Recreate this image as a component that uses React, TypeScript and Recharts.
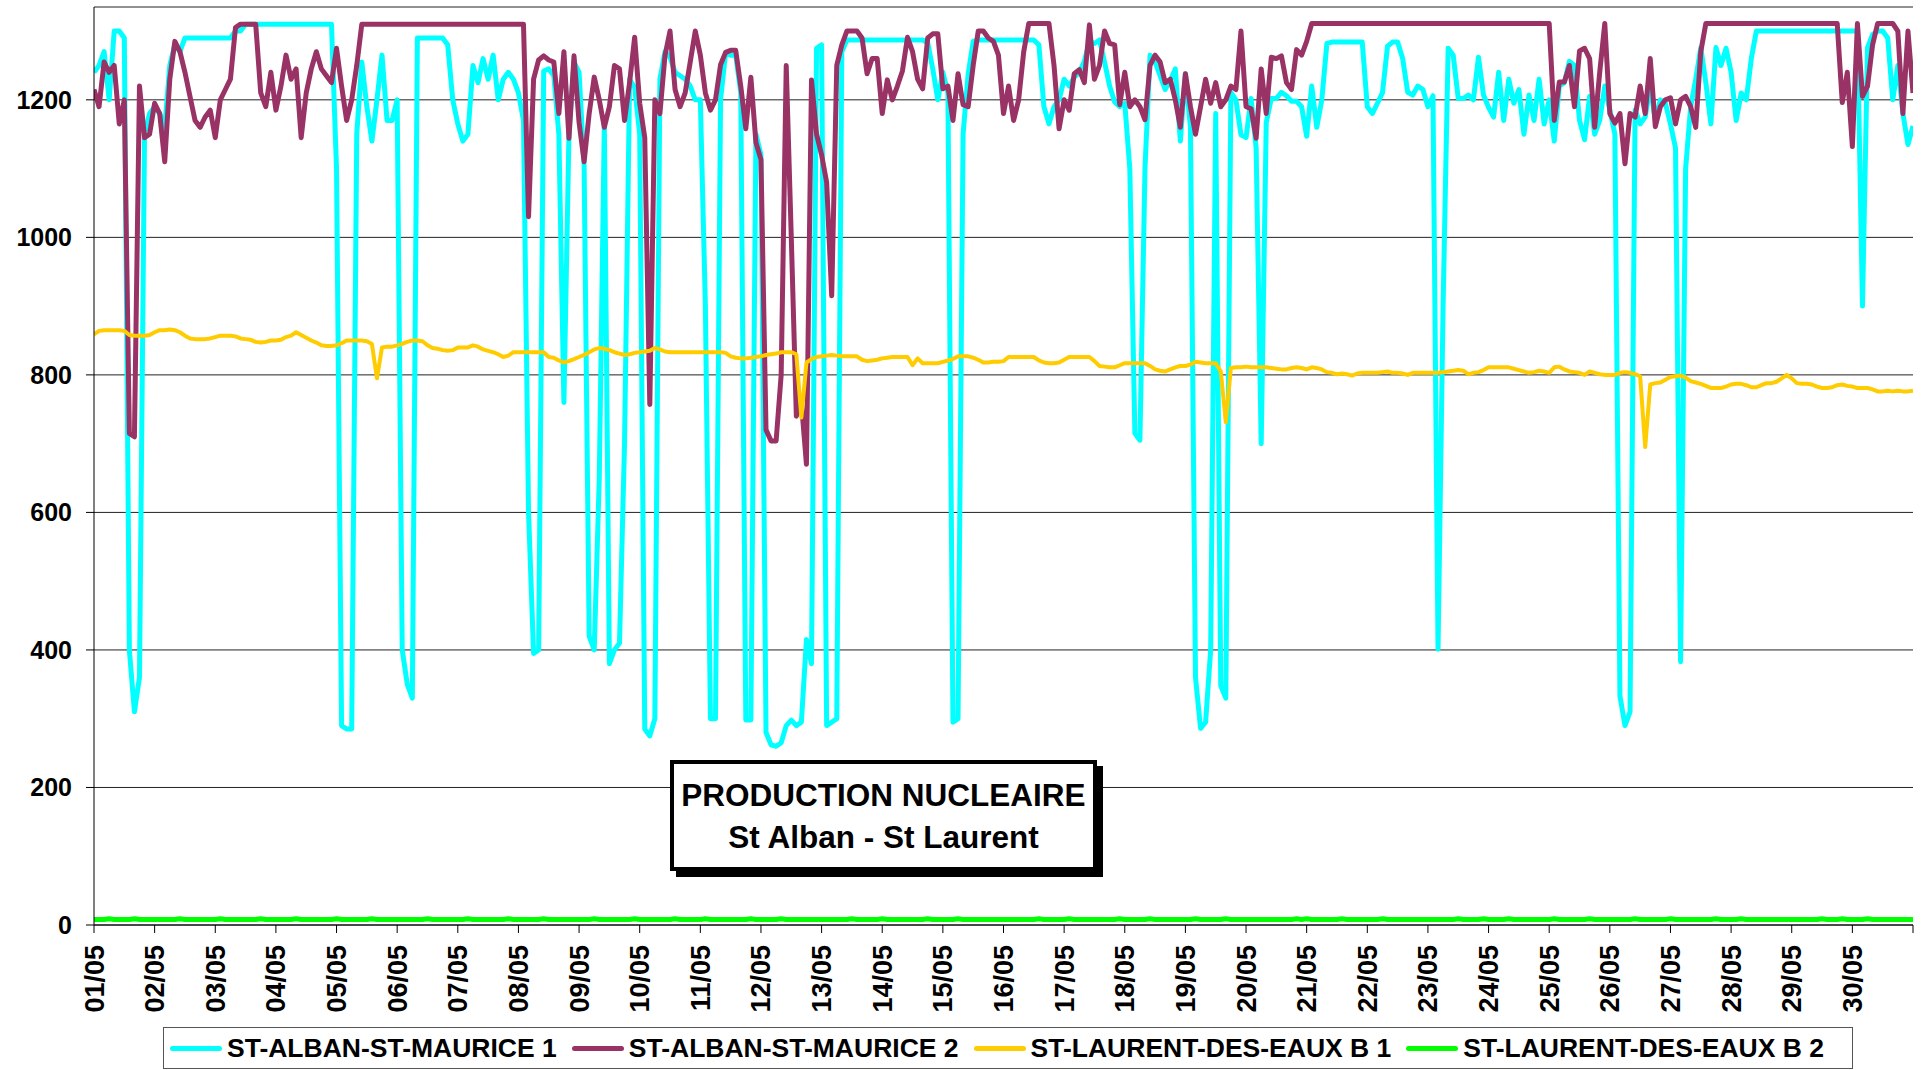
import React from 'react';
import { LineChart, Line, XAxis, YAxis, CartesianGrid } from 'recharts';

// one value every 2 hours, 01/05 00h -> 31/05 00h
const STEP_HOURS = 2;

const dayLabels = [
    '01/05', '02/05', '03/05', '04/05', '05/05', '06/05', '07/05', '08/05', '09/05', '10/05',
    '11/05', '12/05', '13/05', '14/05', '15/05', '16/05', '17/05', '18/05', '19/05', '20/05',
    '21/05', '22/05', '23/05', '24/05', '25/05', '26/05', '27/05', '28/05', '29/05', '30/05'
];

const yTicks = [0, 200, 400, 600, 800, 1000, 1200];

const seriesNames = [
    'ST-ALBAN-ST-MAURICE 1',
    'ST-ALBAN-ST-MAURICE 2',
    'ST-LAURENT-DES-EAUX B 1',
    'ST-LAURENT-DES-EAUX B 2'
];

const seriesColors = ['#00ffff', '#993366', '#ffcc00', '#00ff00'];

// ST-ALBAN-ST-MAURICE 1
const alban1 = [
    1240, 1250, 1270, 1200, 1300, 1300, 1290, 400, 310, 360, 1150, 1180,
    1190, 1180, 1160, 1250, 1280, 1270, 1290, 1290, 1290, 1290, 1290, 1290,
    1290, 1290, 1290, 1290, 1300, 1300, 1310, 1310, 1310, 1310, 1310, 1310,
    1310, 1310, 1310, 1310, 1310, 1310, 1310, 1310, 1310, 1310, 1310, 1310,
    1100, 290, 285, 285, 1150, 1255, 1190, 1140, 1200, 1265, 1170, 1170,
    1200, 400, 350, 330, 1290, 1290, 1290, 1290, 1290, 1290, 1280, 1200,
    1165, 1140, 1150, 1250, 1225, 1260, 1230, 1265, 1200, 1230, 1240, 1230,
    1210, 1170, 600, 395, 400, 1242, 1245, 1235, 1150, 760, 1150, 1255,
    1240, 1104, 420, 400, 650, 1165, 380, 400, 410, 700, 1230, 1218,
    1150, 285, 275, 300, 1230, 1270, 1262, 1240, 1235, 1230, 1220, 1200,
    1200, 900, 300, 300, 1200, 1268, 1265, 1265, 1210, 298, 298, 1150,
    1120, 280, 262, 260, 265, 290, 298, 290, 295, 415, 380, 1275,
    1280, 290, 295, 300, 1270, 1287, 1287, 1287, 1287, 1287, 1287, 1287,
    1287, 1287, 1287, 1287, 1287, 1287, 1287, 1287, 1287, 1283, 1245, 1200,
    1240, 1210, 295, 300, 1150, 1237, 1285, 1287, 1287, 1287, 1287, 1287,
    1287, 1287, 1287, 1287, 1287, 1287, 1287, 1280, 1190, 1165, 1190, 1200,
    1230, 1220, 1233, 1240, 1256, 1285, 1282, 1287, 1255, 1220, 1197, 1190,
    1195, 1100, 715, 705, 1100, 1265, 1255, 1235, 1215, 1228, 1245, 1140,
    1238, 1160, 360, 286, 295, 400, 1180, 348, 330, 1211, 1200, 1149,
    1145, 1202, 1130, 700, 1167, 1202, 1202, 1211, 1206, 1198, 1198, 1190,
    1147, 1220, 1160, 1200, 1282, 1284, 1284, 1284, 1284, 1284, 1284, 1284,
    1190, 1180, 1195, 1210, 1278, 1284, 1284, 1260, 1211, 1207, 1220, 1215,
    1190, 1206, 401, 900, 1275, 1265, 1202, 1202, 1207, 1200, 1262, 1207,
    1189, 1175, 1240, 1170, 1230, 1195, 1215, 1150, 1207, 1170, 1230, 1165,
    1200, 1140, 1220, 1225, 1256, 1250, 1170, 1142, 1205, 1150, 1170, 1220,
    1185, 1150, 333, 290, 310, 1185, 1165, 1175, 1220, 1170, 1200, 1195,
    1165, 1130, 383, 1100, 1190, 1230, 1276, 1225, 1165, 1276, 1250, 1275,
    1240, 1170, 1210, 1200, 1260, 1300, 1300, 1300, 1300, 1300, 1300, 1300,
    1300, 1300, 1300, 1300, 1300, 1300, 1300, 1300, 1300, 1300, 1300, 1300,
    1300, 1300, 900, 1276, 1295, 1300, 1300, 1290, 1200, 1250, 1180, 1135,
    1162
];

// ST-ALBAN-ST-MAURICE 2
const alban2 = [
    1215, 1190, 1255, 1240, 1250, 1165, 1200, 715, 710, 1220, 1145, 1150,
    1195, 1180, 1110, 1230, 1285, 1270, 1240, 1205, 1170, 1160, 1175, 1185,
    1145, 1200, 1215, 1230, 1305, 1310, 1310, 1310, 1310, 1210, 1190, 1240,
    1185, 1220, 1265, 1230, 1245, 1145, 1210, 1245, 1270, 1245, 1235, 1225,
    1275, 1220, 1170, 1200, 1250, 1310, 1310, 1310, 1310, 1310, 1310, 1310,
    1310, 1310, 1310, 1310, 1310, 1310, 1310, 1310, 1310, 1310, 1310, 1310,
    1310, 1310, 1310, 1310, 1310, 1310, 1310, 1310, 1310, 1310, 1310, 1310,
    1310, 1310, 1030, 1230, 1258, 1264, 1258, 1255, 1180, 1270, 1144, 1264,
    1167, 1110, 1180, 1233, 1200, 1160, 1190, 1250, 1245, 1170, 1225, 1291,
    1195, 1145, 757, 1200, 1180, 1264, 1300, 1215, 1190, 1210, 1255, 1300,
    1265, 1210, 1185, 1200, 1251, 1269, 1272, 1272, 1220, 1158, 1233, 1138,
    1113, 720, 704, 704, 800, 1250, 1000, 740, 760, 670, 1229, 1150,
    1120, 1080, 915, 1250, 1280, 1300, 1300, 1300, 1290, 1238, 1260, 1260,
    1180, 1229, 1200, 1220, 1242, 1291, 1270, 1230, 1216, 1290, 1296, 1296,
    1216, 1220, 1170, 1238, 1193, 1190, 1250, 1300, 1300, 1290, 1285, 1265,
    1180, 1220, 1170, 1200, 1270, 1311, 1311, 1311, 1311, 1311, 1250, 1158,
    1200, 1185, 1238, 1244, 1225, 1309, 1230, 1250, 1300, 1282, 1280, 1193,
    1240, 1190, 1200, 1190, 1171, 1250, 1265, 1255, 1225, 1230, 1200, 1160,
    1238, 1190, 1150, 1190, 1230, 1195, 1225, 1190, 1200, 1220, 1215, 1300,
    1190, 1187, 1144, 1245, 1180, 1262, 1260, 1264, 1225, 1215, 1273, 1265,
    1285, 1311, 1311, 1311, 1311, 1311, 1311, 1311, 1311, 1311, 1311, 1311,
    1311, 1311, 1311, 1311, 1311, 1311, 1311, 1311, 1311, 1311, 1311, 1311,
    1311, 1311, 1311, 1311, 1311, 1311, 1311, 1311, 1311, 1311, 1311, 1311,
    1311, 1311, 1311, 1311, 1311, 1311, 1311, 1311, 1311, 1311, 1311, 1311,
    1311, 1170, 1226, 1226, 1250, 1190, 1271, 1275, 1260, 1160, 1240, 1311,
    1180, 1166, 1180, 1107, 1180, 1175, 1220, 1180, 1260, 1161, 1190, 1200,
    1203, 1165, 1200, 1205, 1190, 1160, 1270, 1311, 1311, 1311, 1311, 1311,
    1311, 1311, 1311, 1311, 1311, 1311, 1311, 1311, 1311, 1311, 1311, 1311,
    1311, 1311, 1311, 1311, 1311, 1311, 1311, 1311, 1311, 1311, 1196, 1240,
    1132, 1311, 1205, 1220, 1280, 1311, 1311, 1311, 1311, 1300, 1180, 1300,
    1210
];

// ST-LAURENT-DES-EAUX B 1
const laurent1 = [
    859, 864, 865, 865, 865, 865, 864, 858, 857, 857, 857, 858,
    862, 865, 865, 866, 865, 862, 857, 853, 852, 852, 852, 853,
    855, 857, 857, 857, 856, 853, 852, 851, 848, 847, 848, 850,
    850, 851, 855, 857, 862, 858, 854, 850, 847, 843, 842, 842,
    843, 846, 850, 850, 850, 850, 849, 845, 795, 840, 841, 841,
    843, 845, 848, 850, 850, 849, 843, 839, 838, 836, 835, 836,
    840, 840, 840, 843, 841, 837, 835, 833, 830, 826, 828, 833,
    833, 833, 833, 833, 833, 833, 826, 825, 821, 818, 820, 823,
    826, 829, 833, 837, 839, 838, 836, 833, 831, 829, 830, 832,
    833, 834, 835, 839, 837, 834, 833, 833, 833, 833, 833, 833,
    833, 833, 833, 833, 833, 832, 827, 825, 824, 824, 825, 826,
    827, 829, 830, 831, 833, 833, 833, 830, 738, 818, 823, 826,
    827, 828, 829, 828, 827, 827, 827, 827, 822, 820, 821, 822,
    824, 825, 826, 826, 826, 826, 814, 824, 817, 817, 817, 817,
    819, 821, 823, 827, 827, 827, 825, 822, 818, 818, 819, 819,
    820, 826, 826, 826, 826, 826, 826, 821, 818, 817, 817, 818,
    822, 826, 826, 826, 826, 826, 820, 813, 812, 811, 811, 814,
    817, 817, 817, 817, 817, 813, 808, 806, 805, 808, 811, 813,
    813, 815, 819, 818, 817, 817, 817, 805, 731, 810, 811, 811,
    812, 811, 811, 811, 811, 810, 809, 808, 808, 810, 811, 810,
    808, 811, 810, 808, 804, 803, 801, 802, 801, 799, 802, 803,
    803, 803, 803, 804, 805, 803, 803, 802, 800, 803, 803, 803,
    803, 803, 803, 804, 805, 806, 807, 806, 801, 803, 804, 807,
    811, 811, 811, 811, 811, 809, 807, 805, 803, 804, 806, 805,
    803, 811, 812, 808, 805, 804, 803, 800, 805, 803, 801, 800,
    800, 800, 803, 804, 803, 801, 798, 695, 786, 788, 789, 793,
    797, 798, 799, 796, 791, 789, 787, 784, 781, 781, 781, 783,
    786, 787, 787, 785, 782, 782, 785, 788, 788, 790, 795, 800,
    795, 788, 787, 787, 786, 783, 781, 781, 782, 785, 786, 784,
    783, 781, 781, 781, 779, 776, 776, 777, 776, 777, 776, 776,
    777
];

// ST-LAURENT-DES-EAUX B 2
const laurent2 = [
    8, 8, 8, 9, 8, 8, 8, 8, 9, 8, 8, 8,
    8, 8, 8, 8, 8, 9, 8, 8, 8, 8, 8, 8,
    8, 9, 8, 8, 8, 8, 8, 8, 8, 9, 8, 8,
    8, 8, 8, 8, 9, 8, 8, 8, 8, 8, 8, 8,
    9, 8, 8, 8, 8, 8, 8, 9, 8, 8, 8, 8,
    8, 8, 8, 8, 8, 8, 9, 8, 8, 8, 8, 8,
    8, 8, 9, 8, 8, 8, 8, 8, 8, 8, 9, 8,
    8, 8, 8, 8, 8, 9, 8, 8, 8, 8, 8, 8,
    8, 8, 8, 9, 8, 8, 8, 8, 8, 8, 8, 9,
    8, 8, 8, 8, 8, 8, 8, 9, 8, 8, 8, 8,
    8, 9, 8, 8, 8, 8, 8, 8, 8, 8, 9, 8,
    8, 8, 8, 8, 9, 8, 8, 8, 8, 8, 8, 8,
    8, 8, 8, 8, 8, 8, 9, 8, 8, 8, 8, 8,
    9, 8, 8, 8, 8, 8, 8, 8, 8, 9, 8, 8,
    8, 8, 8, 9, 8, 8, 8, 8, 8, 8, 8, 8,
    8, 8, 8, 8, 8, 8, 8, 9, 8, 8, 8, 8,
    8, 9, 8, 8, 8, 8, 8, 8, 8, 8, 8, 9,
    8, 8, 8, 8, 8, 9, 8, 8, 8, 8, 8, 8,
    8, 8, 9, 8, 8, 8, 8, 8, 9, 8, 8, 8,
    8, 8, 8, 8, 8, 8, 8, 8, 8, 8, 9, 8,
    9, 8, 8, 8, 8, 8, 8, 9, 8, 8, 8, 8,
    8, 8, 8, 9, 8, 8, 8, 8, 8, 8, 8, 8,
    8, 8, 8, 8, 8, 8, 9, 8, 8, 8, 8, 9,
    8, 8, 8, 8, 9, 8, 8, 8, 8, 8, 8, 8,
    8, 9, 8, 8, 8, 8, 8, 8, 9, 8, 8, 8,
    8, 8, 8, 8, 8, 9, 8, 8, 8, 8, 8, 8,
    9, 8, 8, 8, 8, 8, 8, 8, 8, 9, 8, 8,
    8, 8, 9, 8, 8, 8, 8, 8, 8, 8, 8, 8,
    8, 8, 8, 8, 8, 8, 9, 8, 8, 8, 9, 8,
    8, 8, 8, 9, 8, 8, 8, 8, 8, 8, 8, 8,
    8
];

const data = alban1.map((v, i) => ({
    h: i * STEP_HOURS,
    alban1: v,
    alban2: alban2[i],
    laurent1: laurent1[i],
    laurent2: laurent2[i]
}));

// one tick per day, plus the closing tick at the end of the month
const xTicks = [...dayLabels.map((_, i) => i * 24), dayLabels.length * 24];

const FONT = '"Liberation Sans", Arial, Helvetica, sans-serif';

const XTick = (props: any) => {
    const { x, y, payload } = props;
    const label = dayLabels[Math.round(payload.value / 24)];
    if (!label) return null;
    const top = y + 10;
    return (
        <text
            x={x}
            y={top}
            dy={9.5}
            transform={`rotate(-90, ${x}, ${top})`}
            textAnchor="end"
            fontFamily={FONT}
            fontWeight="bold"
            fontSize={27}
            fill="#000"
        >
            {label}
        </text>
    );
};

const YTick = (props: any) => {
    const { x, y, payload } = props;
    return (
        <text x={x - 12} y={y} dy={9} textAnchor="end" fontFamily={FONT} fontWeight="bold" fontSize={25} fill="#000">
            {payload.value}
        </text>
    );
};

const lineKeys = ['alban1', 'alban2', 'laurent1', 'laurent2'];
const lineWidths = [5, 5, 4, 5];

export default function App() {
    return (
        <div style={{ position: 'absolute', left: 0, top: 0, width: 1922, height: 1070, background: '#fff', fontFamily: FONT }}>
            <LineChart width={1922} height={1070} data={data} margin={{ top: 7, right: 9, bottom: 45, left: 4 }}>
                <CartesianGrid vertical={false} stroke="#222" strokeWidth={1} />
                <XAxis
                    dataKey="h"
                    type="number"
                    domain={[0, 720]}
                    ticks={xTicks}
                    interval={0}
                    height={100}
                    stroke="#000"
                    tickSize={8}
                    tick={<XTick />}
                    allowDataOverflow
                />
                <YAxis
                    type="number"
                    domain={[0, 1335]}
                    ticks={yTicks}
                    interval={0}
                    width={90}
                    stroke="#000"
                    tickSize={8}
                    tick={<YTick />}
                    allowDataOverflow
                />
                {lineKeys.map((k, i) => (
                    <Line
                        key={k}
                        type="linear"
                        dataKey={k}
                        name={seriesNames[i]}
                        stroke={seriesColors[i]}
                        strokeWidth={lineWidths[i]}
                        strokeLinejoin="round"
                        dot={false}
                        activeDot={false}
                        isAnimationActive={false}
                    />
                ))}
            </LineChart>

            {/* titre */}
            <div
                style={{
                    position: 'absolute',
                    left: 670,
                    top: 760,
                    width: 427,
                    height: 111,
                    boxSizing: 'border-box',
                    border: '4px solid #000',
                    boxShadow: '6px 6px 0 #000',
                    background: '#fff',
                    textAlign: 'center',
                    fontWeight: 'bold',
                    fontSize: 31.5,
                    lineHeight: '42px',
                    paddingTop: 10,
                    color: '#000'
                }}
            >
                <div>PRODUCTION NUCLEAIRE</div>
                <div>St Alban - St Laurent</div>
            </div>

            {/* legende */}
            <div
                style={{
                    position: 'absolute',
                    left: 163,
                    top: 1027,
                    width: 1690,
                    height: 42,
                    boxSizing: 'border-box',
                    border: '1px solid #555',
                    background: '#fff',
                    display: 'flex',
                    alignItems: 'center',
                    paddingLeft: 6
                }}
            >
                {seriesNames.map((n, i) => (
                    <div key={n} style={{ display: 'flex', alignItems: 'center', marginRight: 15 }}>
                        <span style={{ display: 'inline-block', width: 52, height: 5, borderRadius: 3, background: seriesColors[i], marginRight: 5 }} />
                        <span style={{ fontWeight: 'bold', fontSize: 26.5, color: '#000', whiteSpace: 'nowrap' }}>{n}</span>
                    </div>
                ))}
            </div>
        </div>
    );
}
